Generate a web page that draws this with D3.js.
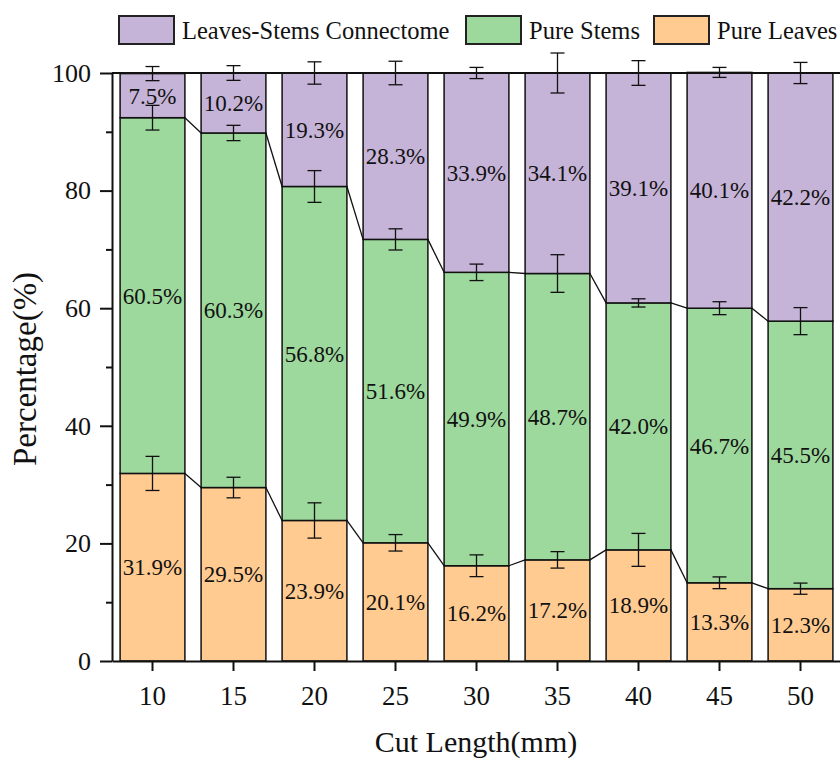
<!DOCTYPE html>
<html>
<head>
<meta charset="utf-8">
<script src="https://cdn.jsdelivr.net/npm/d3@7"></script>
<style>
  body { margin: 0; background: #fff; }
</style>
</head>
<body>
<svg id="chart" width="840" height="759"></svg>
<script>
// Cut lengths (mm) on the x axis
const cutLengths = [10, 15, 20, 25, 30, 35, 40, 45, 50];

// Percentages per group, bottom to top of the stack
const pureLeaves = [31.9, 29.5, 23.9, 20.1, 16.2, 17.2, 18.9, 13.3, 12.3];
const pureStems = [60.5, 60.3, 56.8, 51.6, 49.9, 48.7, 42.0, 46.7, 45.5];
const connectome = [7.5, 10.2, 19.3, 28.3, 33.9, 34.1, 39.1, 40.1, 42.2];

// Error bar half-lengths (percentage points)
const leavesErr = [2.9, 1.75, 3.0, 1.4, 1.85, 1.4, 2.8, 1.0, 0.95];
const stemsErr = [2.1, 1.3, 2.7, 1.8, 1.4, 3.2, 0.7, 1.1, 2.3];
const connectomeErr = [1.2, 1.25, 1.9, 2.0, 0.95, 3.4, 2.1, 0.85, 1.8];

const seriesNames = ["Leaves-Stems Connectome", "Pure Stems", "Pure Leaves"];
const yTicks = [0, 20, 40, 60, 80, 100];
const yMinorTicks = [10, 30, 50, 70, 90];

const colors = {
    "Pure Leaves": "#ffcb91",
    "Pure Stems": "#9dd89d",
    "Leaves-Stems Connectome": "#c6b4d8"
};
const font = "'Liberation Serif', 'Times New Roman', serif";

const svg = d3.select("#chart")
    .attr("font-family", font);

const x = d3.scaleBand()
    .domain(cutLengths)
    .range([112, 841])
    .paddingInner(0.2)
    .paddingOuter(0.1);

const y = d3.scaleLinear().domain([0, 100]).range([661, 73]);

// build stacked rows from the arrays
const rows = cutLengths.map((c, i) => {
    const l1 = pureLeaves[i];
    const s1 = l1 + pureStems[i];
    const c1 = s1 + connectome[i];
    return {
        cut: c,
        segs: [
            { name: "Pure Leaves", y0: 0, y1: l1, v: pureLeaves[i], err: leavesErr[i] },
            { name: "Pure Stems", y0: l1, y1: s1, v: pureStems[i], err: stemsErr[i] },
            { name: "Leaves-Stems Connectome", y0: s1, y1: c1, v: connectome[i], err: connectomeErr[i] }
        ]
    };
});

//bars
const groups = svg.append("g").selectAll("g")
    .data(rows)
    .join("g")
    .attr("transform", d => "translate(" + x(d.cut) + ",0)");

groups.selectAll("rect")
    .data(d => d.segs)
    .join("rect")
    .attr("x", 0)
    .attr("y", d => y(d.y1))
    .attr("width", x.bandwidth())
    .attr("height", d => y(d.y0) - y(d.y1))
    .attr("fill", d => colors[d.name])
    .attr("stroke", "#111")
    .attr("stroke-width", 1.5);

// connector lines between the tops of leaves and stems
[0, 1].forEach(k => {
    svg.append("g").selectAll("line")
        .data(d3.pairs(rows))
        .join("line")
        .attr("x1", d => x(d[0].cut) + x.bandwidth())
        .attr("y1", d => y(d[0].segs[k].y1))
        .attr("x2", d => x(d[1].cut))
        .attr("y2", d => y(d[1].segs[k].y1))
        .attr("stroke", "#111")
        .attr("stroke-width", 1.3);
});

// error bars at each stacked top
const errs = groups.selectAll("g.err")
    .data(d => d.segs)
    .join("g")
    .attr("class", "err")
    .attr("stroke", "#111")
    .attr("stroke-width", 1.3);
const cx = x.bandwidth() / 2;
errs.append("line")
    .attr("x1", cx).attr("x2", cx)
    .attr("y1", d => y(d.y1 + d.err))
    .attr("y2", d => y(d.y1 - d.err));
errs.append("line")
    .attr("x1", cx - 7).attr("x2", cx + 7)
    .attr("y1", d => y(d.y1 + d.err))
    .attr("y2", d => y(d.y1 + d.err));
errs.append("line")
    .attr("x1", cx - 7).attr("x2", cx + 7)
    .attr("y1", d => y(d.y1 - d.err))
    .attr("y2", d => y(d.y1 - d.err));

// value labels in the middle of each segment
groups.selectAll("text")
    .data(d => d.segs)
    .join("text")
    .attr("x", cx)
    .attr("y", d => y((d.y0 + d.y1) / 2))
    .attr("dy", "0.35em")
    .attr("text-anchor", "middle")
    .attr("font-size", 23)
    .attr("fill", "#111")
    .text(d => d.v.toFixed(1) + "%");

// top frame line
svg.append("line")
    .attr("x1", 112).attr("x2", 840)
    .attr("y1", y(100)).attr("y2", y(100))
    .attr("stroke", "#111")
    .attr("stroke-width", 2);

// axes
const yAxis = svg.append("g")
    .attr("transform", "translate(112,0)")
    .call(d3.axisLeft(y).tickValues(yTicks).tickSize(12).tickSizeOuter(0).tickPadding(9));
svg.append("g")
    .attr("transform", "translate(112,0)")
    .call(d3.axisLeft(y).tickValues(yMinorTicks).tickSize(6).tickSizeOuter(0).tickFormat(""))
    .select(".domain").remove();
yAxis.attr("font-size", 26);

const xAxis = svg.append("g")
    .attr("transform", "translate(0,661)")
    .call(d3.axisBottom(x).tickSize(10).tickSizeOuter(0).tickPadding(15));
xAxis.attr("font-size", 27);

svg.selectAll(".domain, .tick line")
    .attr("stroke", "#111")
    .attr("stroke-width", 2);
svg.selectAll(".tick text").attr("fill", "#111");
yAxis.attr("font-family", font);
xAxis.attr("font-family", font);

// axis titles
svg.append("text")
    .attr("x", 476)
    .attr("y", 752)
    .attr("text-anchor", "middle")
    .attr("font-size", 30)
    .attr("fill", "#111")
    .text("Cut Length(mm)");

svg.append("text")
    .attr("transform", "translate(36,369) rotate(-90)")
    .attr("text-anchor", "middle")
    .attr("font-size", 33)
    .attr("fill", "#111")
    .text("Percentage(%)");

// legend
const legendX = [119, 466, 654];
const legend = svg.append("g").selectAll("g")
    .data(seriesNames)
    .join("g")
    .attr("transform", (d, i) => "translate(" + legendX[i] + ",16)");
legend.append("rect")
    .attr("width", 55)
    .attr("height", 28)
    .attr("fill", d => colors[d])
    .attr("stroke", "#222")
    .attr("stroke-width", 2);
legend.append("text")
    .attr("x", 63)
    .attr("y", 23)
    .attr("font-size", 24.5)
    .attr("fill", "#111")
    .text(d => d);
</script>
</body>
</html>
